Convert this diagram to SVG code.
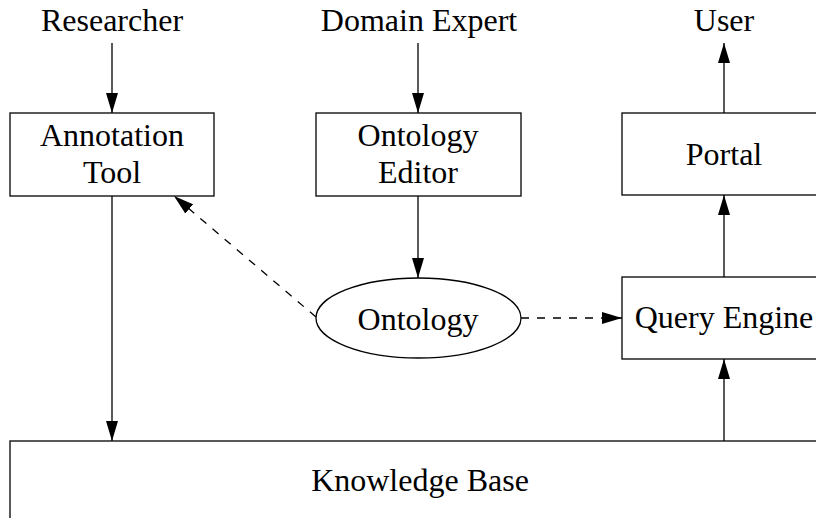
<svg xmlns="http://www.w3.org/2000/svg" width="816" height="518" viewBox="0 0 816 518">
<defs>
<marker id="ah" markerUnits="userSpaceOnUse" markerWidth="20" markerHeight="12" refX="20" refY="6" orient="auto">
<path d="M0,0 L20,6 L0,12 Z" fill="#000"/>
</marker>
<style>
.box{fill:#fff;stroke:#000;stroke-width:1.3}
.t{font-family:"Liberation Serif","Times New Roman",serif;font-size:32px;fill:#000;text-anchor:middle}
.c{stroke:#000;stroke-width:1.3;fill:none;marker-end:url(#ah)}
.d{stroke-dasharray:8 8}
</style>
</defs>
<rect width="816" height="518" fill="#fff"/>
<g id="researcher"><text class="t" x="112" y="31">Researcher</text></g>
<g id="domain-expert"><text class="t" x="419" y="31">Domain Expert</text></g>
<g id="user"><text class="t" x="724" y="31">User</text></g>
<g id="annotation-tool"><rect class="box" x="10" y="113" width="204" height="83"/><text class="t" x="112" y="146">Annotation</text><text class="t" x="112" y="183">Tool</text></g>
<g id="ontology-editor"><rect class="box" x="316" y="113" width="205" height="83"/><text class="t" x="418" y="146">Ontology</text><text class="t" x="418" y="183">Editor</text></g>
<g id="portal"><rect class="box" x="622" y="113" width="210" height="82"/><text class="t" x="724" y="165">Portal</text></g>
<g id="ontology"><ellipse class="box" cx="418.5" cy="318" rx="102.5" ry="40"/><text class="t" x="418" y="330">Ontology</text></g>
<g id="query-engine"><rect class="box" x="622" y="277" width="210" height="82"/><text class="t" x="724" y="328">Query Engine</text></g>
<g id="knowledge-base"><rect class="box" x="10" y="441" width="830" height="100"/><text class="t" x="420" y="491">Knowledge Base</text></g>
<g id="connectors">
<line class="c" x1="112" y1="43" x2="112" y2="113"/>
<line class="c" x1="418" y1="43" x2="418" y2="113"/>
<line class="c" x1="724" y1="113" x2="724" y2="43"/>
<line class="c" x1="418" y1="196" x2="418" y2="278"/>
<line class="c" x1="112" y1="196" x2="112" y2="441"/>
<line class="c" x1="724" y1="441" x2="724" y2="359"/>
<line class="c" x1="724" y1="277" x2="724" y2="195"/>
<line class="c d" x1="521" y1="318" x2="622" y2="318"/>
<line class="c d" x1="316" y1="317" x2="174" y2="196"/>
</g>
</svg>
